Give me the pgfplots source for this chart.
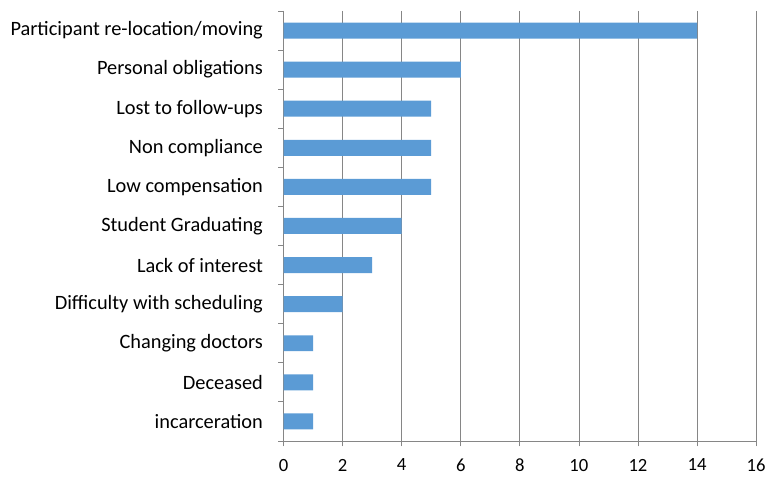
\documentclass[border=0pt]{standalone}
\usepackage{pgfplots}
\pgfplotsset{compat=1.18}
\usepackage{fontspec}
\setmainfont{Carlito}
\definecolor{barblue}{HTML}{5B9BD5}
\definecolor{gridgray}{HTML}{868686}
\begin{document}
\begin{tikzpicture}
\begin{axis}[
  scale only axis,
  width=355pt, height=323pt,
  xbar,
  bar width=12pt,
  y dir=reverse,
  xmin=0, xmax=16,
  ymin=-0.5, ymax=10.5,
  xtick={0,2,...,16},
  ytick={0,...,10},
  yticklabels={Participant re-location/moving, Personal obligations, Lost to follow-ups, Non compliance, Low compensation, Student Graduating, Lack of interest, Difficulty with scheduling, Changing doctors, Deceased, incarceration},
  axis lines*=left,
  axis line style={gridgray, line width=0.6pt},
  xmajorgrids,
  grid style={gridgray, line width=0.6pt},
  tick align=outside,
  tick style={gridgray, line width=0.6pt},
  major tick length=4pt,
  ytick style={draw=none},
  extra y ticks={-0.5,0.5,...,10.5},
  extra y tick labels={},
  extra y tick style={ytick style={draw=gridgray}, major tick length=4pt},
  /pgf/number format/assume math mode=true,
  yticklabel style={font=\fontsize{15.3}{17}\selectfont, text=black, xshift=-8pt},
  xticklabel style={font=\fontsize{14}{16}\selectfont, text=black, yshift=-6pt},
  clip=false,
]
\addplot[fill=barblue, draw=none] coordinates {
(14,0) (6,1) (5,2) (5,3) (5,4) (4,5) (3,6) (2,7) (1,8) (1,9) (1,10)};
\end{axis}
\path ([shift={(-213pt,-30.75pt)}]current axis.south west) rectangle ([shift={(9.75pt,8.25pt)}]current axis.north east);
\end{tikzpicture}
\end{document}
